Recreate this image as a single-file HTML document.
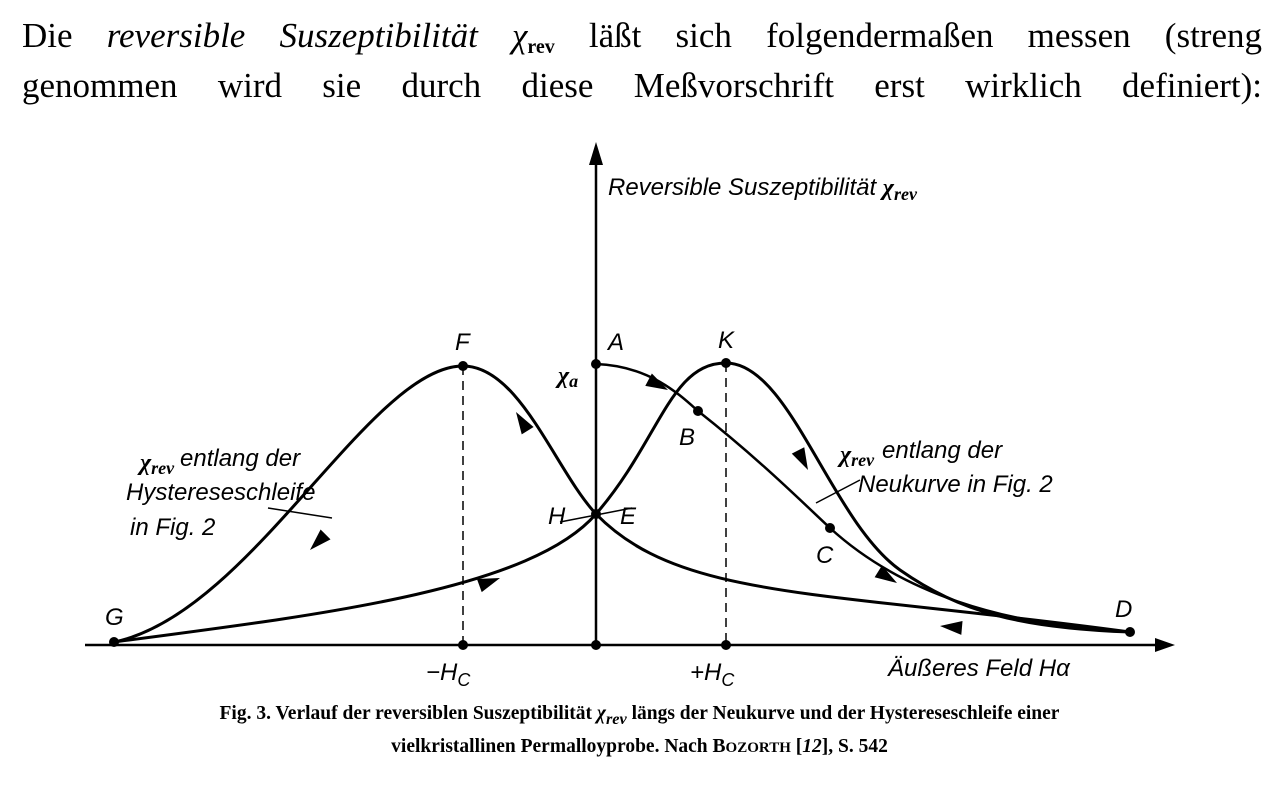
<!DOCTYPE html>
<html><head><meta charset="utf-8"><style>
body{margin:0;background:#fff;width:1279px;height:785px;overflow:hidden;font-family:"Liberation Serif",serif;}
.l{position:absolute;left:22px;width:1240px;font-size:35px;color:#000;white-space:nowrap;text-align:justify;text-align-last:justify;}
.cap{position:absolute;left:0;width:1279px;top:700px;font-size:19.5px;font-weight:bold;text-align:center;line-height:28px;}
</style></head><body>
<div class="l" style="top:16px">Die <i>reversible Suszeptibilität χ</i><span style="font-size:20px;font-weight:bold;position:relative;top:6px">rev</span> läßt sich folgendermaßen messen (streng</div>
<div class="l" style="top:66px">genommen wird sie durch diese Meßvorschrift erst wirklich definiert):</div>
<svg width="1279" height="785" style="position:absolute;left:0;top:0" font-family="Liberation Sans, sans-serif" font-style="italic">
<g stroke="#000" fill="none" stroke-width="3">
<line x1="596" y1="155" x2="596" y2="645" stroke-width="2.5"/>
<line x1="85" y1="645" x2="1165" y2="645" stroke-width="2.5"/>
<line x1="463" y1="366" x2="463" y2="645" stroke-width="1.5" stroke-dasharray="9,6"/>
<line x1="726" y1="363" x2="726" y2="645" stroke-width="1.5" stroke-dasharray="9,6"/>
<path d="M114,642 C250,615 370,366 463,366 C520,366 555,470 596,514 C680,600 820,590 1130,632"/>
<path d="M114,642 C320,615 530,590 596,514 C660,440 670,363 726,363 C790,363 830,520 900,570 C960,612 1020,628 1130,632"/>
<path d="M596,364 C650,366 680,395 698,411 C760,460 800,500 830,528 C900,592 1000,625 1130,632" stroke-width="2.5"/>
<line x1="560" y1="522" x2="632" y2="508" stroke-width="1.5"/>
<line x1="816" y1="503" x2="860" y2="480" stroke-width="1.5"/>
<line x1="268" y1="508" x2="332" y2="518" stroke-width="1.5"/>
</g>
<g fill="#000">
<polygon points="1175,645 1155,638 1155,652"/>
<polygon points="596,142 589,165 603,165"/>
<circle cx="114" cy="642" r="5"/><circle cx="463" cy="366" r="5"/><circle cx="726" cy="363" r="5"/><circle cx="596" cy="364" r="5"/><circle cx="698" cy="411" r="5"/><circle cx="596" cy="514" r="5"/><circle cx="830" cy="528" r="5"/><circle cx="1130" cy="632" r="5"/>
<circle cx="463" cy="645" r="5"/><circle cx="596" cy="645" r="5"/><circle cx="726" cy="645" r="5"/>
<g transform="translate(668,390) rotate(28)"><polygon points="0,0 -22,-7 -22,7"/></g>
<g transform="translate(516,412) rotate(-122)"><polygon points="0,0 -22,-7 -22,7"/></g>
<g transform="translate(808,470) rotate(63)"><polygon points="0,0 -22,-7 -22,7"/></g>
<g transform="translate(310,550) rotate(135)"><polygon points="0,0 -22,-7 -22,7"/></g>
<g transform="translate(500,578) rotate(-20)"><polygon points="0,0 -22,-7 -22,7"/></g>
<g transform="translate(897,583) rotate(32)"><polygon points="0,0 -22,-7 -22,7"/></g>
<g transform="translate(940,626) rotate(185)"><polygon points="0,0 -22,-7 -22,7"/></g>
</g>
<g font-size="24">
<text x="608" y="195">Reversible Suszeptibilität <tspan font-family="Liberation Serif" font-weight="bold">χ<tspan font-size="18" dy="5">rev</tspan></tspan></text>
<text x="455" y="350">F</text><text x="608" y="350">A</text><text x="718" y="348">K</text>
<text x="558" y="383" font-family="Liberation Serif" font-weight="bold">χ<tspan font-size="18" dy="4">a</tspan></text>
<text x="679" y="445">B</text><text x="548" y="524">H</text><text x="620" y="524">E</text><text x="816" y="563">C</text>
<text x="105" y="625">G</text><text x="1115" y="617">D</text>
<text x="426" y="680">−H<tspan font-size="18" dy="6">C</tspan></text>
<text x="690" y="680">+H<tspan font-size="18" dy="6">C</tspan></text>
<text x="888" y="676">Äußeres Feld H<tspan>α</tspan></text>
<text x="140" y="470" font-family="Liberation Serif" font-weight="bold">χ<tspan font-size="18" dy="4">rev</tspan></text><text x="180" y="466">entlang der</text>
<text x="126" y="500">Hystereseschleife</text><text x="130" y="535">in Fig. 2</text>
<text x="840" y="462" font-family="Liberation Serif" font-weight="bold">χ<tspan font-size="18" dy="4">rev</tspan></text><text x="882" y="458">entlang der</text>
<text x="858" y="492">Neukurve in Fig. 2</text>
</g>
</svg>
<div class="cap">Fig. 3. Verlauf der reversiblen Suszeptibilität <i>χ<sub>rev</sub></i> längs der Neukurve und der Hystereseschleife einer<br>vielkristallinen Permalloyprobe. Nach B<span style="font-size:15px">OZORTH</span> [<i>12</i>], S. 542</div>
</body></html>
